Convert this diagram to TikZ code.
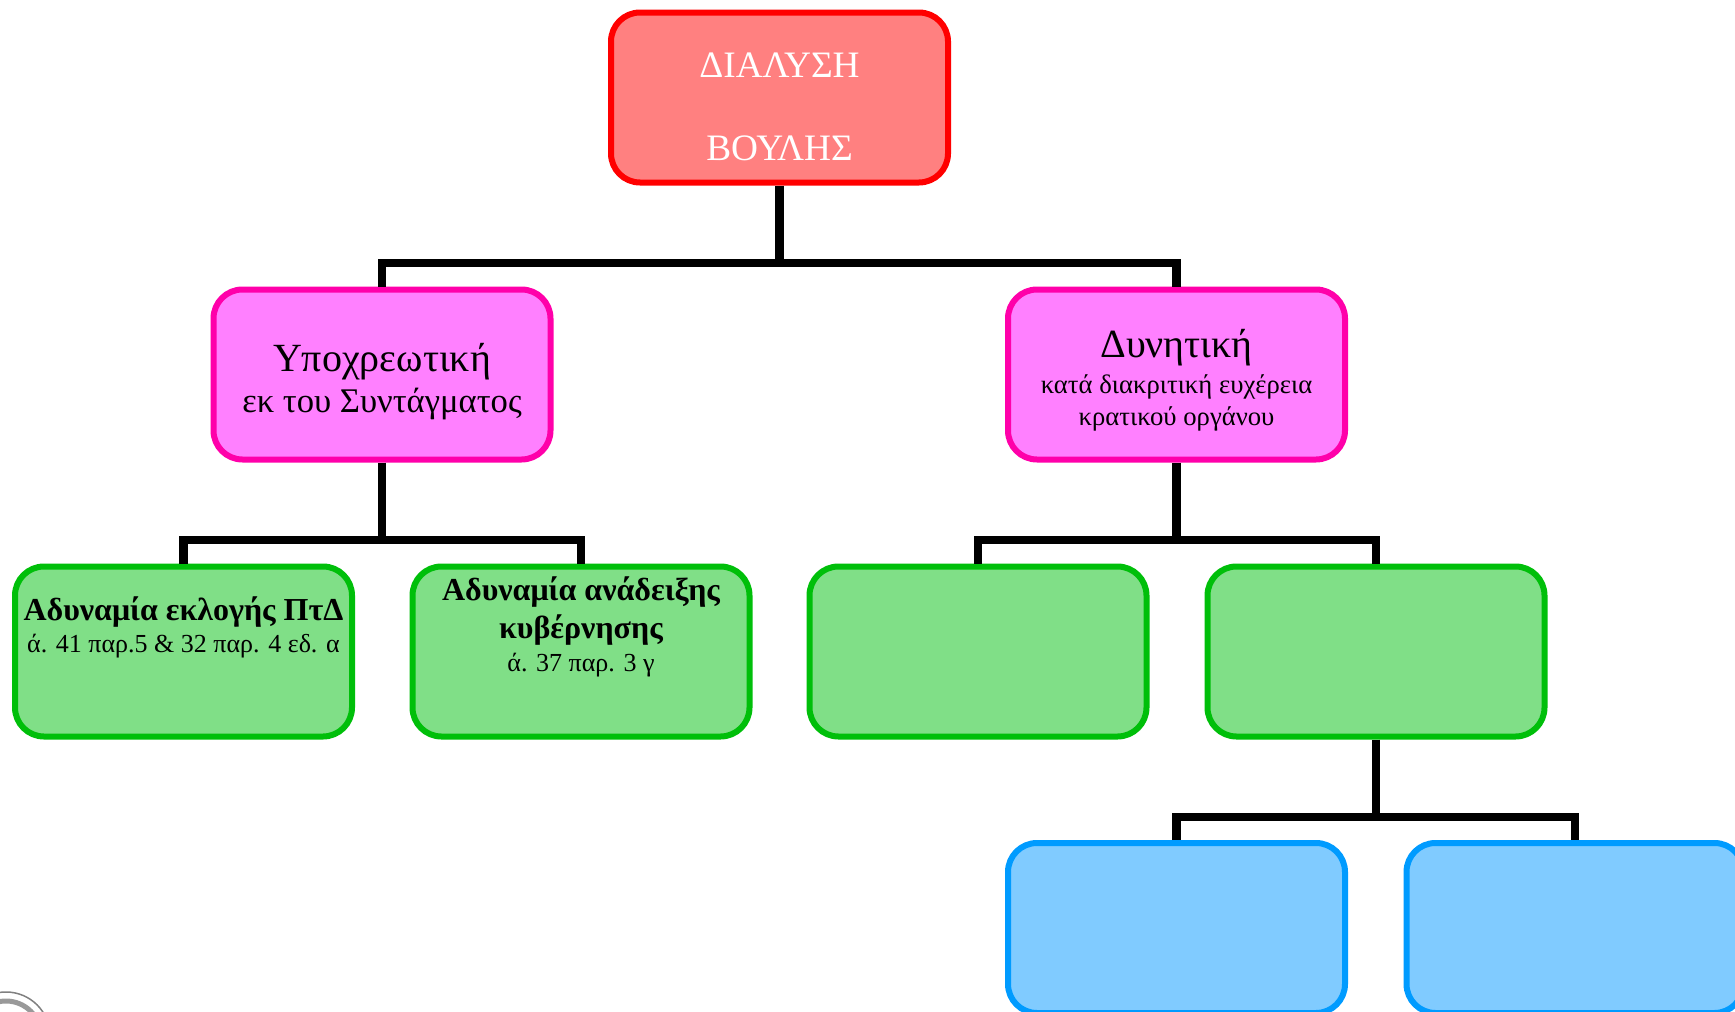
\documentclass[tikz,border=0pt]{standalone}
\usepackage{fontspec}
\setmainfont{Liberation Serif}
\usetikzlibrary{calc, positioning}
\definecolor{xred}{HTML}{FF0000}
\definecolor{xredfill}{HTML}{FF8080}
\definecolor{xpink}{HTML}{FF00AA}
\definecolor{xpinkfill}{HTML}{FF80FF}
\definecolor{xgreen}{HTML}{00BF0A}
\definecolor{xgreenfill}{HTML}{80DF87}
\definecolor{xblue}{HTML}{009BFF}
\definecolor{xbluefill}{HTML}{80CBFF}
\newcommand{\fs}[1]{\fontsize{#1}{#1}\selectfont}
\tikzset{
  box/.style 2 args = {draw=#1, fill=#2, line width=6pt, rounded corners=29pt, minimum width=337pt, minimum height=170pt, inner sep=0pt},
  link/.style = {line width=8.5pt, black},
  txt/.style = {anchor=base, inner sep=0pt, align=center},
}
\begin{document}
\begin{tikzpicture}[x=1pt, y=-1pt]
  \clip (0,0) rectangle (1735,1012);
  \fill[white] (0,0) rectangle (1735,1012);

  % seal, corner
  \draw[gray, line width=1.5pt] (6,1036) circle (44);
  \draw[gray!80, line width=5pt] (6,1036) circle (35);

  \node[box={xred}{xredfill}] (root) at (779.5,97.5) {};
  \node[box={xpink}{xpinkfill}] (must) at (382,374.5) {};
  \node[box={xpink}{xpinkfill}] (may) at (1176.5,374.5) {};
  \node[box={xgreen}{xgreenfill}] (elect) at (183.5,651.5) {};
  \node[box={xgreen}{xgreenfill}] (govern) at (581,651.5) {};
  \node[box={xgreen}{xgreenfill}] (greena) at (978,651.5) {};
  \node[box={xgreen}{xgreenfill}] (greenb) at (1376,651.5) {};
  \node[box={xblue}{xbluefill}] (bluea) at (1176.5,928) {};
  \node[box={xblue}{xbluefill}] (blueb) at (1575,928) {};

  \coordinate (bus1) at (root.south |- 0,263);
  \coordinate (bus2) at (must.south |- 0,540);
  \coordinate (bus3) at (may.south |- 0,540);
  \coordinate (bus4) at (greenb.south |- 0,817);

  \draw[link] (root.south) -- (bus1);
  \draw[link] (must.north) |- (may.north |- bus1) -- (may.north);
  \draw[link] (must.south) -- (bus2);
  \draw[link] (elect.north) |- (govern.north |- bus2) -- (govern.north);
  \draw[link] (may.south) -- (bus3);
  \draw[link] (greena.north) |- (greenb.north |- bus3) -- (greenb.north);
  \draw[link] (greenb.south) -- (bus4);
  \draw[link] (bluea.north) |- (blueb.north |- bus4) -- (blueb.north);

  \node[txt, white, font=\fs{37.3}] (roota) at (779.5,77) {ΔΙΑΛΥΣΗ};
  \node[txt, white, font=\fs{37.3}] (rootb) at (779.5,160) {ΒΟΥΛΗΣ};

  \node[txt, font=\fs{40}] (musta) at (382,371) {Υποχρεωτική};
  \node[txt, font=\fs{34.6}] (mustb) at (382,412) {εκ του Συντάγματος};

  \node[txt, font=\fs{40}] (maya) at (1176.5,357) {Δυνητική};
  \node[txt, font=\fs{26.7}] (mayb) at (1176.5,393) {κατά διακριτική ευχέρεια};
  \node[txt, font=\fs{26.7}] (mayc) at (1176.5,425) {κρατικού οργάνου};

  \node[txt, font=\bfseries\fs{32}] (electa) at (183.5,620) {Αδυναμία εκλογής ΠτΔ};
  \node[txt, font=\fs{26}] (electb) at (183.5,652) {ά. 41 παρ.5 \& 32 παρ. 4 εδ. α};

  \node[txt, font=\bfseries\fs{32}] (governa) at (581,600) {Αδυναμία ανάδειξης};
  \node[txt, font=\bfseries\fs{32}] (governb) at (581,638) {κυβέρνησης};
  \node[txt, font=\fs{26}] (governc) at (581,671) {ά. 37 παρ. 3 γ};
\end{tikzpicture}
\end{document}
